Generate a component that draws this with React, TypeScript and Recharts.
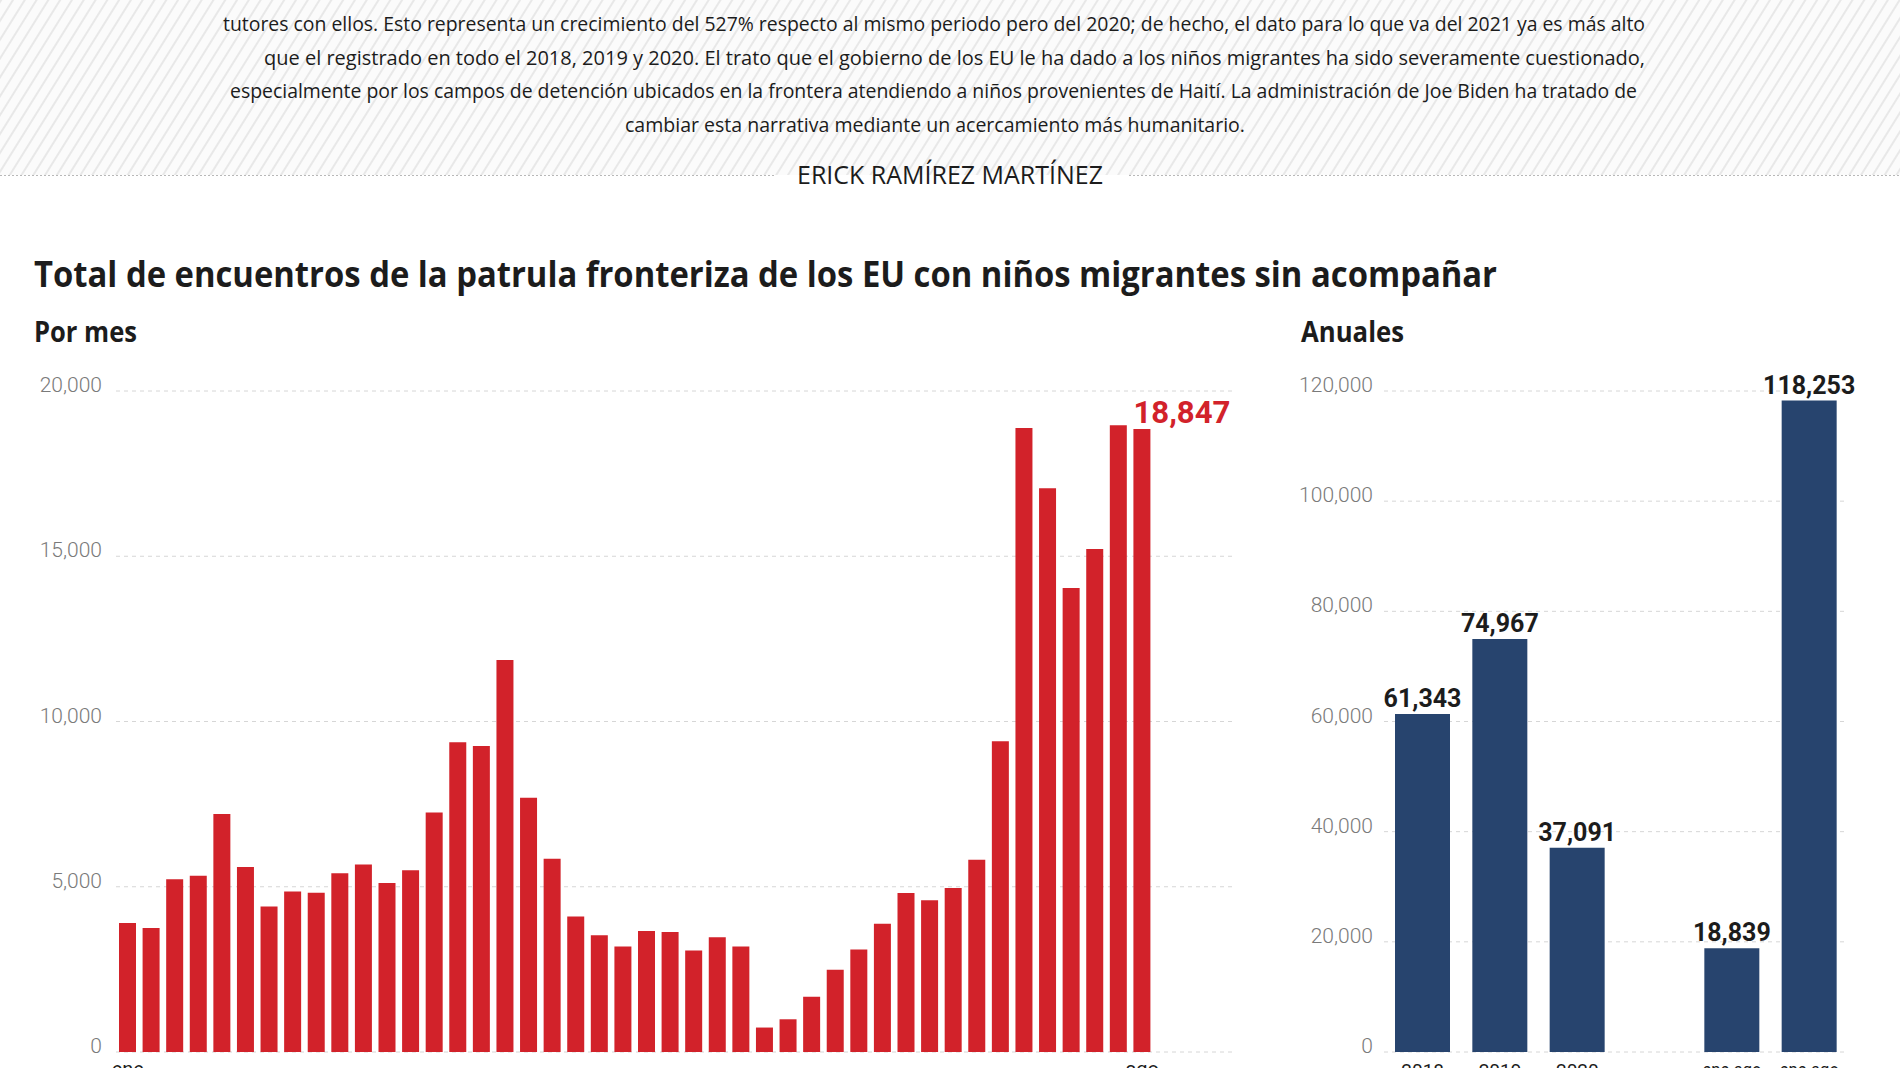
import React from "react";
import { BarChart, Bar, XAxis, YAxis, CartesianGrid, LabelList } from "recharts";

// ---------- data ----------
const monthNames = ["ene", "feb", "mar", "abr", "may", "jun", "jul", "ago", "sep", "oct", "nov", "dic"];
const monthYears = [2018, 2019, 2020, 2021];

// Monthly encounters, Jan 2018 - Aug 2021
const monthlyValues = [
  3900, 3750, 5230, 5330, 7200, 5600, 4400, 4860, 4820, 5410, 5670, 5110,
  5500, 7250, 9370, 9260, 11860, 7690, 5850, 4100, 3530, 3190, 3660, 3630,
  3070, 3470, 3190, 740, 990, 1670, 2490, 3100, 3880, 4810, 4590, 4960,
  5820, 9400, 18880, 17060, 14040, 15220, 18960, 18847,
];
const monthlyTicks = [0, 5000, 10000, 15000, 20000];

const annualCategories = ["2018", "2019", "2020", "", "ene-ago 2020", "ene-ago 2021"];
const annualValues: (number | null)[] = [61343, 74967, 37091, null, 18839, 118253];
const annualTicks = [0, 20000, 40000, 60000, 80000, 100000, 120000];

const introLines = [
  "tutores con ellos. Esto representa un crecimiento del 527% respecto al mismo periodo pero del 2020; de hecho, el dato para lo que va del 2021 ya es más alto",
  "que el registrado en todo el 2018, 2019 y 2020. El trato que el gobierno de los EU le ha dado a los niños migrantes ha sido severamente cuestionado,",
  "especialmente por los campos de detención ubicados en la frontera atendiendo a niños provenientes de Haití. La administración de Joe Biden ha tratado de",
  "cambiar esta narrativa mediante un acercamiento más humanitario.",
];
const author = "ERICK RAMÍREZ MARTÍNEZ";
const title = "Total de encuentros de la patrula fronteriza de los EU con niños migrantes sin acompañar";
const subLeft = "Por mes";
const subRight = "Anuales";

// ---------- derived tables ----------
const monthlyCategories: string[] = [];
monthYears.forEach((y) => monthNames.forEach((m) => monthlyCategories.push(`${m} ${y}`)));
const monthlyData = monthlyValues.map((v, i) => ({ cat: monthlyCategories[i], value: v }));
const annualData = annualCategories.map((c, i) => ({ cat: c, value: annualValues[i] }));

// ---------- styles ----------
const RED = "#d2222a";
const NAVY = "#27446e";
const TXT = "#1c1c1c";
const FONT = "'Open Sans', 'Noto Sans', sans-serif";
const NUMFONT = "Roboto, 'Open Sans', sans-serif";
const fmt = (n: number) => n.toLocaleString("en-US");

const introGeom = [
  { x1: 223, x2: 1645, y: 31 },
  { x1: 264, x2: 1645, y: 64.5 },
  { x1: 230, x2: 1637, y: 98 },
  { x1: 625, x2: 1245, y: 131.5 },
];

const YTick = (props: any) => {
  const { x, y, payload } = props;
  return (
    <text x={x} y={y + 1} textAnchor="end" fontSize={21} fontFamily={NUMFONT} fontWeight={300} fill="#7a7a7a">
      {fmt(payload.value)}
    </text>
  );
};

const MonthTick = (props: any) => {
  const { x, y, payload } = props;
  const label = String(payload.value).split(" ")[0];
  return (
    <text x={x} y={y + 24} textAnchor="middle" fontSize={20} fontFamily={NUMFONT} fill={TXT}>
      {label}
    </text>
  );
};

const AnnualTick = (props: any) => {
  const { x, y, payload } = props;
  const v = String(payload.value);
  if (!v) return null;
  const parts = v.split(" ");
  const long = parts[0].length > 4;
  return (
    <text x={x} y={y + (long ? 24 : 25)} textAnchor="middle" fontSize={19} fontFamily={NUMFONT} fill={TXT}>
      <tspan x={x} {...(long ? { textLength: 59, lengthAdjust: "spacingAndGlyphs" } : {})}>
        {parts[0]}
      </tspan>
      {parts[1] ? (
        <tspan x={x} dy={22}>
          {parts[1]}
        </tspan>
      ) : null}
    </text>
  );
};

const LastMonthLabel = (props: any) => {
  const { x, y, value, index } = props;
  if (index !== monthlyValues.length - 1) return null;
  return (
    <text
      x={x}
      y={y - 6}
      textAnchor="start"
      fontSize={32}
      fontWeight={700}
      fontFamily={NUMFONT}
      fill={RED}
      textLength={97}
      lengthAdjust="spacingAndGlyphs"
    >
      {fmt(value)}
    </text>
  );
};

const AnnualLabel = (props: any) => {
  const { x, y, width, value, index } = props;
  if (value == null) return null;
  const last = index === annualValues.length - 1;
  if (last) {
    return (
      <text
        x={x + width / 2 - 51}
        y={y - 7}
        textAnchor="start"
        fontSize={33}
        fontWeight={700}
        fontFamily={NUMFONT}
        fill={NAVY}
        textLength={103}
        lengthAdjust="spacingAndGlyphs"
      >
        {fmt(value)}
      </text>
    );
  }
  return (
    <text x={x + width / 2} y={y - 7} textAnchor="middle" fontSize={25} fontWeight={700} fontFamily={NUMFONT} fill={TXT}>
      {fmt(value)}
    </text>
  );
};

export default function App() {
  return (
    <div
      style={{
        position: "fixed",
        left: 0,
        top: 0,
        width: 1900,
        height: 1068,
        overflow: "hidden",
        background: "#ffffff",
      }}
    >
      <svg width={1900} height={1068} style={{ position: "absolute", left: 0, top: 0 }}>
        <defs>
          <pattern id="hatch" width="10" height="10" patternUnits="userSpaceOnUse" patternTransform="rotate(32)">
            <rect width="10" height="10" fill="#fbfbfb" />
            <line x1="1" y1="0" x2="1" y2="10" stroke="#e8e8e8" strokeWidth="2" />
          </pattern>
        </defs>
        <rect x={0} y={0} width={1900} height={175} fill="url(#hatch)" />
        <line x1={0} x2={775} y1={175.5} y2={175.5} stroke="#b8b8b8" strokeWidth={1.2} strokeDasharray="2 2" />
        <line x1={1129} x2={1900} y1={175.5} y2={175.5} stroke="#b8b8b8" strokeWidth={1.2} strokeDasharray="2 2" />
        {introLines.map((t, i) => (
          <text
            key={i}
            x={introGeom[i].x1}
            y={introGeom[i].y}
            fontSize={20}
            fontFamily={FONT}
            fill={TXT}
            textLength={introGeom[i].x2 - introGeom[i].x1}
            lengthAdjust="spacingAndGlyphs"
          >
            {t}
          </text>
        ))}
        <text x={797} y={184} fontSize={25} fontFamily={FONT} fill={TXT} textLength={306} lengthAdjust="spacingAndGlyphs">
          {author}
        </text>
        <text x={34} y={287} fontSize={35} fontWeight={700} fontFamily={FONT} fill={TXT} textLength={1463} lengthAdjust="spacingAndGlyphs">
          {title}
        </text>
        <text x={34} y={342} fontSize={28} fontWeight={700} fontFamily={FONT} fill={TXT} textLength={103} lengthAdjust="spacingAndGlyphs">
          {subLeft}
        </text>
        <text x={1301} y={342} fontSize={28} fontWeight={700} fontFamily={FONT} fill={TXT} textLength={103} lengthAdjust="spacingAndGlyphs">
          {subRight}
        </text>
      </svg>

      <div style={{ position: "absolute", left: 0, top: 360 }}>
        <BarChart width={1260} height={708} data={monthlyData} margin={{ top: 31, right: 24, bottom: 0, left: 0 }}>
          <CartesianGrid vertical={false} stroke="#d6d6d6" strokeDasharray="4 4" />
          <XAxis
            dataKey="cat"
            axisLine={false}
            tickLine={false}
            tickSize={0}
            tickMargin={0}
            height={16}
            interval={0}
            ticks={[monthlyCategories[0], monthlyCategories[monthlyValues.length - 1]]}
            padding={{ left: 0, right: 82 }}
            tick={<MonthTick />}
          />
          <YAxis
            width={116}
            domain={[0, 20000]}
            ticks={monthlyTicks}
            axisLine={false}
            tickLine={false}
            tickSize={0}
            tickMargin={14}
            tick={<YTick />}
          />
          <Bar dataKey="value" fill={RED} barSize={17} isAnimationActive={false}>
            <LabelList dataKey="value" content={<LastMonthLabel />} />
          </Bar>
        </BarChart>
      </div>

      <div style={{ position: "absolute", left: 1280, top: 360 }}>
        <BarChart width={620} height={708} data={annualData} margin={{ top: 31, right: 52, bottom: 0, left: 0 }}>
          <CartesianGrid vertical={false} stroke="#d6d6d6" strokeDasharray="4 4" />
          <XAxis
            dataKey="cat"
            axisLine={false}
            tickLine={false}
            tickSize={0}
            tickMargin={0}
            height={16}
            interval={0}
            tick={<AnnualTick />}
          />
          <YAxis
            width={104}
            domain={[0, 120000]}
            ticks={annualTicks}
            axisLine={false}
            tickLine={false}
            tickSize={0}
            tickMargin={11}
            tick={<YTick />}
          />
          <Bar dataKey="value" fill={NAVY} barSize={55} isAnimationActive={false}>
            <LabelList dataKey="value" content={<AnnualLabel />} />
          </Bar>
        </BarChart>
      </div>
    </div>
  );
}
